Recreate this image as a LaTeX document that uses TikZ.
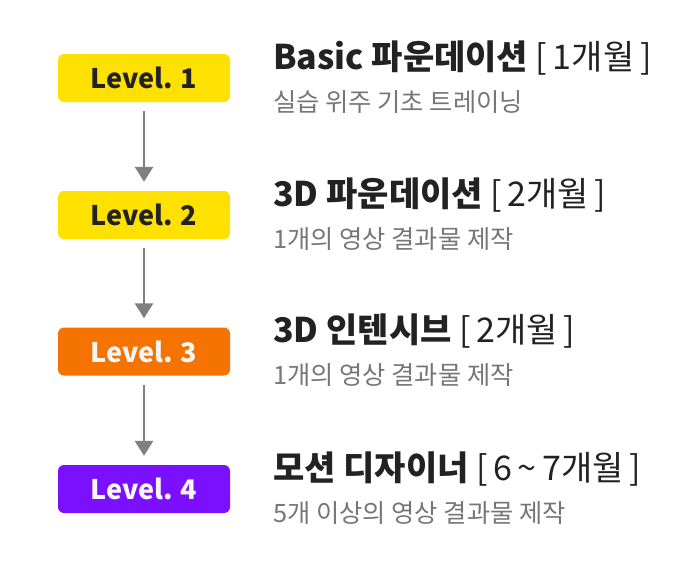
\documentclass[tikz,border=0pt]{standalone}
\usepackage{fontspec}
\setmainfont{Noto Sans CJK KR}
\usetikzlibrary{positioning,arrows.meta}
\definecolor{lvyellow}{HTML}{FFE100}
\definecolor{lvorange}{HTML}{F57300}
\definecolor{lvpurple}{HTML}{7A10FF}
\definecolor{inkdark}{HTML}{222222}
\definecolor{inklight}{HTML}{F7F7F7}
\definecolor{subgray}{HTML}{767676}
\definecolor{arrowgray}{HTML}{808080}

\begin{document}
\begin{tikzpicture}[x=1pt, y=-1pt,
  levelbox/.style={rounded corners=6pt, minimum width=172pt, minimum height=48pt, inner sep=0pt, font=\fontsize{27}{27}\selectfont\bfseries},
  coursetitle/.style={anchor=base west, inner sep=0pt, text=inkdark, font=\fontsize{34}{34}\selectfont},
  coursesub/.style={anchor=base west, inner sep=0pt, text=subgray, font=\fontsize{25.3}{25.3}\selectfont},
  flow/.style={draw=arrowgray, line width=2.6pt, -{Triangle[width=18pt,length=15pt]}, shorten <=9pt, shorten >=9pt}]
  \useasboundingbox (0,0) rectangle (700,566);
  % 레벨 상자와 과정 설명
  \foreach \i/\y/\fc/\tc/\ttl/\dur/\subtxt in {
      1/78/lvyellow/inkdark/{Basic 파운데이션}/{1개월}/{실습 위주 기초 트레이닝},
      2/215/lvyellow/inkdark/{3D 파운데이션}/{2개월}/{1개의 영상 결과물 제작},
      3/351.5/lvorange/inklight/{3D 인텐시브}/{2개월}/{1개의 영상 결과물 제작},
      4/489/lvpurple/inklight/{모션 디자이너}/{6\,\textasciitilde\,7개월}/{5개 이상의 영상 결과물 제작}} {
    \node[levelbox, fill=\fc, text=\tc] (lv\i) at (144,\y) {Level. \i};
    \node[coursetitle] (ttl\i) at (273,\y-9) {{\bfseries\ttl}\ [\,\dur\,]};
    \node[coursesub] (sub\i) at (273,\y+33) {\subtxt};
  }
  % 화살표
  \foreach \a/\b in {1/2,2/3,3/4}
    \draw[flow] (lv\a) -- (lv\b);
\end{tikzpicture}
\end{document}
